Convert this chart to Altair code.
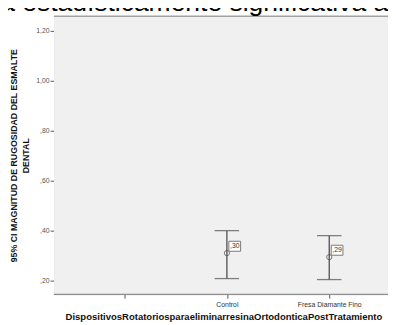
import altair as alt
import pandas as pd

categories = [" ", "Control", "Fresa Diamante Fino"]
groups = ["Control", "Fresa Diamante Fino"]
means = [0.31, 0.294]
lower = [0.208, 0.204]
upper = [0.40, 0.38]
mean_labels = [",30", ",29"]
y_ticks = [0.2, 0.4, 0.6, 0.8, 1.0, 1.2]
header_text = ["da estadísticamente significativa a"]

df = pd.DataFrame({"grupo": groups, "media": means, "lo": lower, "hi": upper, "etq": mean_labels})

W, H = 341, 284
FONT = "Liberation Sans"
GRAY = "#4d4d4d"
FRAME = "#777777"

x_scale = alt.Scale(type="point", domain=categories, range=[72, 281], padding=0)
y_scale = alt.Scale(domain=[0.145, 1.259], nice=False, zero=False)

label_expr = ("datum.value < 1 ? ',' + substring(format(datum.value, '.2f'), 2) : "
              "replace(format(datum.value, '.2f'), '.', ',')")

x_enc = alt.X("grupo:N", scale=x_scale, axis=alt.Axis(
    title="DispositivosRotatoriosparaeliminarresinaOrtodonticaPostTratamiento",
    labelAngle=0, labelFontSize=7, labelColor="#333333", labelFont=FONT,
    tickSize=4, tickColor="#555555", domain=False, labelPadding=2,
    titleFont=FONT, titleFontSize=9.7, titleFontWeight="bold", titleColor="#111111",
    titlePadding=5, titleX=173))
y_axis = alt.Axis(
    title=["95% CI MAGNITUD DE RUGOSIDAD DEL ESMALTE", "DENTAL"],
    values=y_ticks, labelExpr=label_expr, labelFontSize=7, labelColor="#555555",
    labelFont=FONT, tickSize=4, tickColor="#555555", domainColor=FRAME,
    labelPadding=1, grid=False, titleFont=FONT, titleFontSize=9,
    titleFontWeight="bold", titleColor="#111111", titlePadding=5, titleLineHeight=13)

base = alt.Chart(df)

bg = alt.Chart(pd.DataFrame({"a": [0]})).mark_rect(color="#f0f0f0").encode(
    x=alt.value(0), x2=alt.value(W), y=alt.value(0), y2=alt.value(H))
bars = base.mark_rule(color=GRAY, strokeWidth=1.3).encode(
    x=x_enc,
    y=alt.Y("lo:Q", scale=y_scale, axis=y_axis),
    y2="hi:Q")
cap_lo = base.mark_tick(color=GRAY, size=25, thickness=1.3).encode(
    x=alt.X("grupo:N", scale=x_scale), y=alt.Y("lo:Q", scale=y_scale))
cap_hi = base.mark_tick(color=GRAY, size=25, thickness=1.3).encode(
    x=alt.X("grupo:N", scale=x_scale), y=alt.Y("hi:Q", scale=y_scale))
pts = base.mark_point(shape="circle", size=28, filled=False, color="#444444", strokeWidth=1).encode(
    x=alt.X("grupo:N", scale=x_scale), y=alt.Y("media:Q", scale=y_scale))
boxes = base.mark_point(shape="M-1,-0.85H1V0.85H-1Z", size=144, filled=True, fill="white",
                        stroke=FRAME, strokeWidth=1, opacity=1).encode(
    x=alt.X("grupo:N", scale=x_scale), y=alt.Y("media:Q", scale=y_scale),
    xOffset=alt.value(8), yOffset=alt.value(-7))
labels = base.mark_text(fontSize=7, font=FONT, color="#333333", align="center", baseline="middle").encode(
    x=alt.X("grupo:N", scale=x_scale), y=alt.Y("media:Q", scale=y_scale),
    text="etq:N", xOffset=alt.value(8), yOffset=alt.value(-7))
top_line = alt.Chart(pd.DataFrame({"a": [0]})).mark_rule(color=FRAME, strokeWidth=1).encode(
    x=alt.value(0), x2=alt.value(W), y=alt.value(0))
bottom_line = alt.Chart(pd.DataFrame({"a": [0]})).mark_rule(color=FRAME, strokeWidth=1).encode(
    x=alt.value(0), x2=alt.value(W), y=alt.value(H))
header = alt.Chart(pd.DataFrame({"t": header_text})).mark_text(
    fontSize=27, font="Liberation Sans", color="black", align="left", baseline="alphabetic").encode(
    x=alt.value(-70), y=alt.value(-5), text="t:N")

chart = alt.layer(bg, bars, cap_lo, cap_hi, pts, boxes, labels, top_line, bottom_line, header).properties(
    width=W, height=H,
    autosize=alt.AutoSizeParams(type="none"),
    padding={"left": 47, "top": 5, "right": 0, "bottom": 28},
).configure_view(stroke=None).configure(background="white")

chart.save("out.html", embed_options={"renderer": "svg", "actions": False})
